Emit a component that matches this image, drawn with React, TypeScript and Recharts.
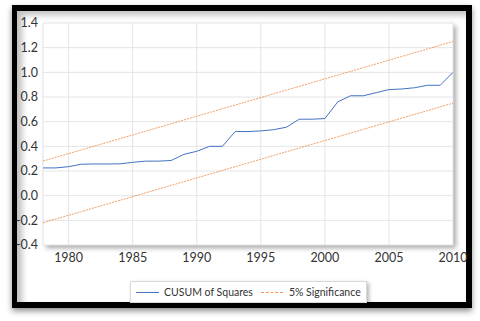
import { LineChart, Line, XAxis, YAxis, CartesianGrid } from "recharts";

const years = [
  1978, 1979, 1980, 1981, 1982, 1983, 1984, 1985, 1986, 1987, 1988, 1989, 1990,
  1991, 1992, 1993, 1994, 1995, 1996, 1997, 1998, 1999, 2000, 2001, 2002, 2003,
  2004, 2005, 2006, 2007, 2008, 2009, 2010,
];

const cusumSq = [
  0.225, 0.225, 0.235, 0.255, 0.257, 0.257, 0.258, 0.27, 0.28, 0.28, 0.285,
  0.335, 0.36, 0.4, 0.4, 0.52, 0.52, 0.525, 0.535, 0.555, 0.62, 0.62, 0.625,
  0.76, 0.81, 0.81, 0.835, 0.86, 0.865, 0.875, 0.895, 0.895, 1.0,
];

const upperBand = [
  0.28, 0.311, 0.341, 0.371, 0.402, 0.432, 0.462, 0.492, 0.523, 0.553, 0.583,
  0.614, 0.644, 0.674, 0.705, 0.735, 0.765, 0.795, 0.826, 0.856, 0.886, 0.917,
  0.947, 0.977, 1.008, 1.038, 1.068, 1.098, 1.129, 1.159, 1.189, 1.22, 1.25,
];

const lowerBand = [
  -0.22, -0.189, -0.159, -0.129, -0.098, -0.068, -0.038, -0.008, 0.023, 0.053,
  0.083, 0.114, 0.144, 0.174, 0.205, 0.235, 0.265, 0.295, 0.326, 0.356, 0.386,
  0.417, 0.447, 0.477, 0.508, 0.538, 0.568, 0.598, 0.629, 0.659, 0.689, 0.72,
  0.75,
];

const xTicks = [1980, 1985, 1990, 1995, 2000, 2005, 2010];
const yTicks = [-0.4, -0.2, 0, 0.2, 0.4, 0.6, 0.8, 1.0, 1.2, 1.4];

const seriesNames = ["CUSUM of Squares", "5% Significance"];

const BLUE = "#4472C4";
const ORANGE = "#ED7D31";
const FONT = "Lato, 'Open Sans', sans-serif";

const data = years.map((year, i) => ({
  year,
  cusum: cusumSq[i],
  upper: upperBand[i],
  lower: lowerBand[i],
}));

function LegendBox() {
  return (
    <div
      style={{
        position: "absolute",
        left: 130,
        top: 281,
        width: 237,
        height: 22,
        boxSizing: "border-box",
        border: "1px solid #d9d9d9",
        background: "#fff",
        boxShadow: "2px 2px 4px rgba(0,0,0,0.3)",
        display: "flex",
        alignItems: "center",
        whiteSpace: "nowrap",
        fontFamily: FONT,
        fontSize: 10.5,
        color: "#333",
      }}
    >
      <span style={{ flex: "none", width: 23, borderTop: `1px solid ${BLUE}`, marginLeft: 5, marginRight: 5 }} />
      <span style={{ flex: "none" }}>{seriesNames[0]}</span>
      <span style={{ flex: "none", width: 22, borderTop: `1px dashed ${ORANGE}`, marginLeft: 8, marginRight: 6, opacity: 0.8 }} />
      <span style={{ flex: "none" }}>{seriesNames[1]}</span>
    </div>
  );
}

export default function App() {
  return (
    <div
      style={{
        position: "absolute",
        left: 0,
        top: 0,
        width: 480,
        height: 321,
        background: "#fff",
        overflow: "hidden",
      }}
    >
      {/* black frame */}
      <div
        style={{
          position: "absolute",
          left: 12,
          top: 5,
          width: 460,
          height: 303,
          boxSizing: "border-box",
          border: "6px solid #000",
          borderLeftWidth: 5,
          boxShadow: "0 3px 6px rgba(0,0,0,0.45), inset 5px 4px 6px rgba(0,0,0,0.25)",
        }}
      />
      {/* plot area shadow */}
      <div
        style={{
          position: "absolute",
          left: 43,
          top: 23,
          width: 410,
          height: 222,
          background: "#fff",
          boxShadow: "3px 3px 5px rgba(0,0,0,0.35)",
        }}
      />
      <div style={{ position: "absolute", left: 0, top: 0 }}>
        <LineChart
          width={480}
          height={321}
          data={data}
          margin={{ top: 23, right: 27, bottom: 51, left: 0 }}
        >
          <CartesianGrid stroke="#e4e4e4" strokeWidth={1} />
          <XAxis
            dataKey="year"
            type="number"
            domain={[1978, 2010]}
            ticks={xTicks}
            allowDataOverflow
            height={25}
            axisLine={false}
            tickLine={false}
            tick={{ fill: "#333", fontSize: 12.5, fontFamily: FONT }}
          />
          <YAxis
            type="number"
            domain={[-0.4, 1.4]}
            ticks={yTicks}
            width={43}
            axisLine={false}
            tickLine={false}
            tickSize={3}
            tickFormatter={(v: number) => v.toFixed(1)}
            tick={{ fill: "#333", fontSize: 12.5, fontFamily: FONT }}
          />
          <Line
            dataKey="upper"
            stroke={ORANGE}
            strokeOpacity={0.75}
            strokeWidth={1}
            strokeDasharray="2 1"
            dot={false}
            isAnimationActive={false}
          />
          <Line
            dataKey="lower"
            stroke={ORANGE}
            strokeOpacity={0.75}
            strokeWidth={1}
            strokeDasharray="2 1"
            dot={false}
            isAnimationActive={false}
          />
          <Line
            dataKey="cusum"
            stroke={BLUE}
            strokeWidth={1}
            dot={false}
            isAnimationActive={false}
          />
        </LineChart>
      </div>
      <LegendBox />
    </div>
  );
}
